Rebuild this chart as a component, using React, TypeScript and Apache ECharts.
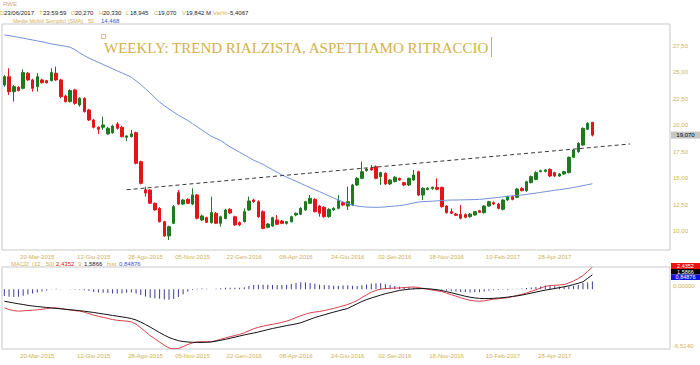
import React, { useEffect, useRef } from "react";
import * as echarts from "echarts";

const MONTHS_IT = ["Gen", "Feb", "Mar", "Apr", "Mag", "Giu", "Lug", "Ago", "Set", "Ott", "Nov", "Dic"];
const FIRST_WEEK = [2015, 0, 30];
const N_SLOTS = 142;
const TICK_LABELS = [
  "20-Mar-2015", "12-Giu-2015", "28-Ago-2015", "05-Nov-2015", "22-Gen-2016", "08-Apr-2016",
  "24-Giu-2016", "02-Set-2016", "18-Nov-2016", "10-Feb-2017", "28-Apr-2017",
];
const PRICE_TICKS = [10, 12.5, 15, 17.5, 20, 22.5, 25, 27.5];
const MACD_TICKS = [-6.514, 0];

const OPEN = [
  23.81, 24.6, 23.18, 23.59, 23.5, 24.92, 24.29, 23.65, 24.29, 24.22,
  24.22, 24.92, 24.29, 22.77, 22.24, 23.34, 21.92, 22.55, 21.45, 20.5,
  19.81, 19.81, 19.18, 19.3, 20.12, 19.81, 18.86, 18.92, 19.3, 16.56,
  13.9, 13.88, 12.62, 12.14, 10.88, 9.53, 10.73, 13.63, 12.55, 12.99,
  12.55, 13.41, 11.04, 11.26, 10.79, 11.67, 10.73, 11.18, 12.05, 11.35,
  10.79, 10.88, 11.99, 12.93, 12.77, 11.83, 10.35, 10.47, 11.04, 10.94,
  10.72, 10.88, 11.51, 11.58, 11.99, 12.62, 12.99, 12.36, 12.24, 11.35,
  11.99, 12.14, 12.68, 12.36, 12.46, 14.35, 14.98, 15.71, 15.93, 16.08,
  15.14, 15.45, 14.45, 14.67, 14.98, 14.57, 14.35, 14.82, 15.61, 13.4,
  13.92, 14.0, 14.13, 14.13, 12.36, 11.83, 11.6, 11.57, 11.57, 11.35,
  11.51, 11.92, 11.73, 12.36, 12.68, 12.55, 12.05, 12.93, 13.24, 13.18,
  14.03, 13.81, 14.57, 14.88, 15.61, 15.64, 15.83, 15.52, 15.2, 15.39,
  15.52, 16.97, 17.5, 18.13, 19.62, 20.27,
];
const CLOSE = [
  24.6, 23.18, 23.65, 23.28, 24.98, 24.29, 23.5, 24.6, 24.03, 24.03,
  24.98, 24.29, 22.71, 22.24, 23.28, 22.08, 22.55, 21.29, 20.5, 19.81,
  19.62, 20.03, 19.71, 19.93, 19.71, 18.92, 18.99, 19.18, 16.4, 14.51,
  13.6, 12.62, 11.99, 10.88, 9.53, 10.41, 12.3, 12.55, 12.93, 12.62,
  13.41, 11.2, 11.42, 10.82, 11.74, 10.73, 11.35, 11.99, 11.7, 10.57,
  10.57, 11.83, 12.84, 12.77, 11.35, 10.25, 10.66, 11.26, 10.63, 10.72,
  10.88, 11.35, 11.67, 12.14, 12.77, 13.09, 11.83, 11.67, 11.35, 12.05,
  12.14, 12.87, 12.46, 12.77, 14.35, 14.98, 15.61, 15.86, 15.77, 14.98,
  15.52, 14.45, 14.82, 15.08, 14.82, 14.35, 14.98, 15.3, 13.4, 14.04,
  14.05, 14.13, 13.94, 12.3, 11.73, 11.67, 11.48, 11.2, 11.29, 11.6,
  11.83, 11.76, 12.36, 12.77, 12.55, 12.14, 12.93, 13.24, 12.99, 13.97,
  13.81, 14.66, 15.14, 15.52, 15.7, 15.77, 15.2, 15.2, 15.39, 15.61,
  16.97, 17.66, 18.29, 19.71, 20.18, 19.07,
];
const LOW = [
  23.65, 22.87, 22.24, 23.2, 23.4, 24.2, 23.18, 23.18, 23.95, 23.95,
  24.15, 24.2, 22.55, 22.15, 22.15, 21.95, 21.76, 21.2, 20.4, 19.7,
  19.18, 19.56, 19.1, 19.2, 19.6, 18.85, 18.51, 18.85, 16.3, 14.4,
  13.25, 12.55, 11.9, 10.8, 9.45, 9.15, 10.65, 12.45, 12.45, 12.55,
  12.45, 11.1, 10.95, 10.75, 10.7, 10.65, 10.41, 11.1, 11.6, 10.5,
  10.45, 10.8, 11.9, 12.65, 11.25, 10.15, 10.25, 10.4, 10.55, 10.65,
  10.6, 10.8, 11.4, 11.5, 11.9, 12.55, 11.75, 11.35, 11.25, 11.25,
  11.9, 12.05, 12.35, 11.99, 12.35, 14.25, 14.9, 15.6, 15.7, 14.9,
  14.35, 14.35, 14.35, 14.6, 14.75, 14.25, 14.25, 14.75, 13.3, 12.93,
  13.85, 13.9, 13.85, 12.2, 11.65, 11.6, 11.4, 11.1, 11.2, 11.25,
  11.45, 11.7, 11.65, 12.3, 12.45, 12.05, 11.95, 12.85, 12.9, 13.1,
  13.75, 13.7, 14.5, 14.8, 15.55, 15.55, 15.1, 15.1, 15.12, 15.3,
  15.45, 16.9, 17.4, 18.05, 19.55, 18.945,
];
const HIGH = [
  24.75, 25.39, 23.8, 23.7, 25.29, 25.05, 24.4, 24.92, 24.4, 24.3,
  25.39, 25.55, 24.4, 22.9, 23.4, 23.45, 22.65, 22.65, 21.55, 20.6,
  19.9, 20.82, 19.85, 20.05, 20.3, 19.95, 19.05, 19.56, 19.4, 16.65,
  14.19, 13.95, 12.7, 12.25, 10.95, 10.5, 12.46, 13.88, 13.05, 13.1,
  14.04, 13.5, 11.55, 11.35, 13.25, 11.8, 11.45, 12.1, 12.15, 11.45,
  10.9, 12.14, 13.25, 13.05, 12.9, 11.95, 10.75, 11.35, 11.51, 11.05,
  10.95, 11.45, 11.75, 12.25, 12.85, 13.4, 13.1, 12.45, 12.35, 12.15,
  12.25, 13.4, 12.8, 14.19, 14.45, 15.1, 16.56, 15.95, 16.24, 16.2,
  15.6, 15.55, 14.9, 15.2, 15.05, 14.65, 15.05, 15.77, 15.7, 14.15,
  14.15, 14.2, 14.98, 14.2, 12.45, 12.14, 11.7, 12.46, 11.65, 11.7,
  11.9, 12.0, 12.45, 12.85, 12.8, 12.65, 13.0, 13.35, 13.35, 14.05,
  14.15, 14.75, 15.25, 15.65, 15.8, 15.85, 15.92, 15.6, 15.48, 15.7,
  17.05, 17.75, 18.4, 19.8, 20.3, 20.33,
];
const SMA50 = [
  28.55, 28.48, 28.4, 28.32, 28.24, 28.15, 28.07, 27.98, 27.9, 27.8,
  27.7, 27.62, 27.55, 27.47, 27.38, 27.15, 26.85, 26.6, 26.35, 26.15,
  25.95, 25.75, 25.55, 25.35, 25.15, 24.95, 24.75, 24.55, 24.2, 23.85,
  23.45, 23.05, 22.6, 22.2, 21.85, 21.55, 21.25, 20.95, 20.7, 20.45,
  20.15, 19.85, 19.55, 19.25, 18.95, 18.75, 18.55, 18.25, 17.95, 17.7,
  17.45, 17.2, 16.95, 16.7, 16.5, 16.3, 16.05, 15.8, 15.55, 15.3,
  15.1, 14.9, 14.7, 14.5, 14.3, 14.1, 13.9, 13.72, 13.52, 13.32,
  13.12, 12.93, 12.75, 12.6, 12.45, 12.36, 12.3, 12.26, 12.24, 12.24,
  12.25, 12.28, 12.32, 12.36, 12.4, 12.46, 12.55, 12.65, 12.74, 12.78,
  12.8, 12.82, 12.85, 12.88, 12.91, 12.93, 12.93, 12.94, 12.95, 12.96,
  12.97, 12.99, 13.03, 13.08, 13.13, 13.18, 13.23, 13.28, 13.33, 13.37,
  13.4, 13.46, 13.52, 13.58, 13.65, 13.72, 13.78, 13.85, 13.91, 13.97,
  14.04, 14.12, 14.2, 14.29, 14.38, 14.468,
];
const MACD = [
  -2.02, -2.2, -2.33, -2.38, -2.35, -2.31, -2.28, -2.24, -2.18, -2.1,
  -2.04, -2.03, -2.1, -2.18, -2.26, -2.33, -2.38, -2.5, -2.65, -2.82,
  -2.95, -3.06, -3.18, -3.3, -3.38, -3.43, -3.47, -3.55, -3.8, -4.2,
  -4.63, -5.05, -5.4, -5.75, -6.1, -6.4, -6.51, -6.45, -6.25, -6.02,
  -5.85, -5.74, -5.72, -5.73, -5.72, -5.6, -5.45, -5.3, -5.17, -5.05,
  -4.92, -4.75, -4.52, -4.3, -4.15, -4.02, -3.91, -3.82, -3.72, -3.6,
  -3.47, -3.3, -3.08, -2.89, -2.72, -2.57, -2.48, -2.42, -2.32, -2.2,
  -2.09, -1.95, -1.8, -1.66, -1.45, -1.22, -0.9, -0.6, -0.32, -0.12,
  0.02, 0.08, 0.11, 0.13, 0.15, 0.19, 0.23, 0.26, 0.2, 0.1,
  0.01, -0.08, -0.17, -0.24, -0.42, -0.58, -0.75, -0.92, -1.06, -1.2,
  -1.27, -1.3, -1.26, -1.16, -1.08, -1.03, -0.97, -0.92, -0.8, -0.66,
  -0.55, -0.4, -0.22, -0.05, 0.14, 0.32, 0.4, 0.44, 0.48, 0.52,
  0.7, 0.92, 1.17, 1.5, 1.95, 2.4352,
];
const SIGNAL = [
  -1.3, -1.4, -1.49, -1.58, -1.66, -1.75, -1.82, -1.88, -1.93, -1.98,
  -2.03, -2.08, -2.13, -2.18, -2.23, -2.28, -2.33, -2.39, -2.46, -2.53,
  -2.61, -2.69, -2.77, -2.85, -2.93, -3.01, -3.09, -3.19, -3.35, -3.58,
  -3.84, -4.12, -4.42, -4.72, -5.0, -5.25, -5.45, -5.6, -5.7, -5.75,
  -5.78, -5.79, -5.8, -5.78, -5.74, -5.66, -5.56, -5.46, -5.34, -5.22,
  -5.1, -4.98, -4.87, -4.77, -4.66, -4.53, -4.4, -4.28, -4.17, -4.07,
  -3.96, -3.87, -3.77, -3.65, -3.46, -3.27, -3.08, -2.93, -2.78, -2.63,
  -2.49, -2.35, -2.22, -2.09, -1.83, -1.58, -1.33, -1.12, -0.95, -0.79,
  -0.63, -0.48, -0.36, -0.24, -0.12, -0.05, 0.01, 0.05, 0.08, 0.08,
  0.06, 0.02, -0.05, -0.14, -0.25, -0.37, -0.5, -0.63, -0.76, -0.86,
  -0.94, -0.99, -1.01, -1.01, -0.98, -0.95, -0.91, -0.85, -0.78, -0.72,
  -0.63, -0.53, -0.41, -0.3, -0.19, -0.09, 0.0, 0.09, 0.18, 0.28,
  0.38, 0.52, 0.66, 0.82, 1.2, 1.5866,
];
const TREND = [
  [26, 13.9],
  [133, 18.23],
];
const LAST_PRICE = 19.07;

const GOLD = "#d1b057";
const TITLE_GOLD = "#d5b04c";
const BLUE_TXT = "#3a55c8";
const RED = "#e3151b";
const GREEN = "#1f7a1f";
const SANS = '"Liberation Sans", Arial, sans-serif';
const SERIF = '"Liberation Serif", "Times New Roman", serif';

function pad2(n: number) {
  return n < 10 ? "0" + n : String(n);
}
const START_MS = Date.UTC(FIRST_WEEK[0], FIRST_WEEK[1], FIRST_WEEK[2]);
const WEEK_MS = 7 * 86400000;
const CATS: string[] = [];
for (let i = 0; i < N_SLOTS; i++) {
  const d = new Date(START_MS + i * WEEK_MS);
  CATS.push(pad2(d.getUTCDate()) + "-" + MONTHS_IT[d.getUTCMonth()] + "-" + d.getUTCFullYear());
}
const LABEL_BY_CAT: Record<string, string> = {};
TICK_LABELS.forEach((t) => {
  const [dd, mon, yy] = t.split("-");
  const ms = Date.UTC(Number(yy), MONTHS_IT.indexOf(mon), Number(dd));
  const idx = Math.round((ms - START_MS) / WEEK_MS);
  if (idx >= 0 && idx < N_SLOTS) LABEL_BY_CAT[CATS[idx]] = t;
});

const comma = (v: number, d: number) => v.toFixed(d).replace(".", ",");

function txt(x: number, y: number, text: string, fill: string, fontSize = 6, fontFamily = SANS, align = "left") {
  return {
    type: "text",
    x,
    y,
    silent: true,
    style: { text, fill, fontSize, fontFamily, align, verticalAlign: "middle" },
  };
}

export default function App() {
  const ref = useRef<HTMLDivElement>(null);
  useEffect(() => {
    if (!ref.current) return;
    const chart = echarts.init(ref.current, null, { renderer: "svg" });
    const candles = OPEN.map((o, i) => [o, CLOSE[i], LOW[i], HIGH[i]]);
    const hist = MACD.map((m, i) => +(m - SIGNAL[i]).toFixed(5));

    const xLabel = {
      fontSize: 6,
      color: GOLD,
      fontFamily: SANS,
      margin: 4,
      interval: (_i: number, v: string) => !!LABEL_BY_CAT[v],
      formatter: (v: string) => LABEL_BY_CAT[v] || "",
    };

    const graphic: any[] = [
      txt(3, 4, "RWE", GOLD, 6),
      txt(0, 13, "D", GOLD),
      txt(4, 13, "23/06/2017", "#222"),
      txt(39, 13, "T", GOLD),
      txt(43, 13, "23:59:59", "#222"),
      txt(71, 13, "O", GOLD),
      txt(75, 13, "20,270", "#222"),
      txt(99, 13, "H", GOLD),
      txt(103, 13, "20,330", "#222"),
      txt(126, 13, "L", GOLD),
      txt(130, 13, "18,945", "#222"),
      txt(154, 13, "C", GOLD),
      txt(158, 13, "19,070", "#222"),
      txt(182, 13, "V", GOLD),
      txt(186, 13, "19,842 M", "#222"),
      txt(213, 13, "Var%", GOLD),
      txt(228, 13, "-5,4067", "#222"),
      txt(13, 20.5, "Medie Mobili Semplici (SMA)", GOLD, 5.5),
      txt(88, 20.5, "50  :", GOLD, 5.5),
      txt(101, 20.5, "14,468", BLUE_TXT, 6),
      {
        type: "rect",
        shape: { x: 101.5, y: 34.5, width: 4, height: 4 },
        style: { fill: "none", stroke: TITLE_GOLD, lineWidth: 0.8 },
        silent: true,
      },
      txt(104, 47.5, "WEEKLY: TREND RIALZISTA, ASPETTIAMO RITRACCIO", TITLE_GOLD, 15, SERIF),
      {
        type: "line",
        shape: { x1: 491.5, y1: 37, x2: 491.5, y2: 57 },
        style: { stroke: TITLE_GOLD, lineWidth: 1 },
        silent: true,
      },
      txt(11, 263.5, "MACD", GOLD),
      txt(32, 263.5, "(12 , 50)", GOLD),
      txt(56, 263.5, "2,4352", RED),
      txt(78, 263.5, "9", GOLD),
      txt(84, 263.5, "1,5866", "#222"),
      txt(107, 263.5, "hist", GOLD),
      txt(119, 263.5, "0,84876", BLUE_TXT),
      { type: "rect", shape: { x: 671, y: 263, width: 29, height: 6 }, style: { fill: "#ee1111" }, silent: true },
      txt(685.5, 266, "2,4352", "#fff", 5.5, SANS, "center"),
      { type: "rect", shape: { x: 671, y: 269, width: 29, height: 5.5 }, style: { fill: "#000" }, silent: true },
      txt(685.5, 271.8, "1,5866", "#fff", 5.5, SANS, "center"),
      { type: "rect", shape: { x: 671, y: 274.5, width: 29, height: 5.5 }, style: { fill: "#1010e0" }, silent: true },
      txt(685.5, 277.3, "0,84876", "#fff", 5.5, SANS, "center"),
    ];

    chart.setOption({
      animation: false,
      backgroundColor: "#ffffff",
      textStyle: { fontFamily: SANS },
      graphic,
      grid: [
        { left: 2, right: 30, top: 24, height: 226, show: true, borderColor: "#c9c9c9", borderWidth: 1 },
        { left: 2, right: 30, top: 267, height: 82, show: true, borderColor: "#c9c9c9", borderWidth: 1 },
      ],
      xAxis: [
        {
          type: "category",
          gridIndex: 0,
          data: CATS,
          boundaryGap: true,
          axisLine: { show: false },
          axisTick: { show: false },
          splitLine: { show: false },
          axisLabel: xLabel,
        },
        {
          type: "category",
          gridIndex: 1,
          data: CATS,
          boundaryGap: true,
          axisLine: { show: false },
          axisTick: { show: false },
          splitLine: { show: false },
          axisLabel: xLabel,
        },
      ],
      yAxis: [
        {
          type: "value",
          gridIndex: 0,
          position: "right",
          min: 8.2,
          max: 29.58,
          splitLine: { show: false },
          axisLine: { show: false },
          axisTick: { show: false },
          axisLabel: {
            customValues: PRICE_TICKS,
            formatter: (v: number) => comma(v, 2),
            color: GOLD,
            fontSize: 6,
            fontFamily: SANS,
            margin: 3,
          },
        },
        {
          type: "value",
          gridIndex: 1,
          position: "right",
          min: -6.514,
          max: 2.4352,
          splitLine: { show: false },
          axisLine: { show: false },
          axisTick: { show: false },
          axisLabel: {
            customValues: MACD_TICKS,
            formatter: (v: number) => (Math.abs(v) < 1e-9 ? "0,00000" : comma(v, 4)),
            color: GOLD,
            fontSize: 6,
            fontFamily: SANS,
            margin: 3,
            verticalAlign: "bottom",
          },
        },
      ],
      series: [
        {
          type: "candlestick",
          xAxisIndex: 0,
          yAxisIndex: 0,
          data: candles,
          barWidth: 3,
          itemStyle: {
            color: GREEN,
            color0: RED,
            borderColor: GREEN,
            borderColor0: RED,
            borderWidth: 1,
          },
        },
        {
          type: "line",
          xAxisIndex: 0,
          yAxisIndex: 0,
          data: SMA50,
          showSymbol: false,
          symbol: "none",
          lineStyle: { color: "#7391d6", width: 1 },
        },
        {
          type: "line",
          xAxisIndex: 0,
          yAxisIndex: 0,
          data: TREND,
          showSymbol: false,
          symbol: "none",
          lineStyle: { color: "#3a3a3a", width: 1, type: [4, 3] },
        },
        {
          type: "bar",
          xAxisIndex: 1,
          yAxisIndex: 1,
          data: hist,
          barWidth: 1,
          itemStyle: { color: "#3c3c9a" },
        },
        {
          type: "line",
          xAxisIndex: 1,
          yAxisIndex: 1,
          data: MACD,
          showSymbol: false,
          symbol: "none",
          lineStyle: { color: "#d6404a", width: 1 },
        },
        {
          type: "line",
          xAxisIndex: 1,
          yAxisIndex: 1,
          data: SIGNAL,
          showSymbol: false,
          symbol: "none",
          lineStyle: { color: "#111", width: 1 },
        },
      ],
    });

    // last-price tag placed through the price axis scale
    const yTag = chart.convertToPixel({ yAxisIndex: 0 }, LAST_PRICE) as number;
    if (typeof yTag === "number" && isFinite(yTag)) {
      chart.setOption({
        graphic: [
          ...graphic,
          {
            type: "rect",
            shape: { x: 671, y: yTag - 3.5, width: 29, height: 7 },
            style: { fill: "#c6c6c6" },
            silent: true,
          },
          txt(685.5, yTag, comma(LAST_PRICE, 3), "#000", 6, SANS, "center"),
        ],
      });
    }
    return () => chart.dispose();
  }, []);
  return (
    <div
      ref={ref}
      style={{ position: "absolute", left: 0, top: 0, width: 700, height: 365, background: "#fff" }}
    />
  );
}
